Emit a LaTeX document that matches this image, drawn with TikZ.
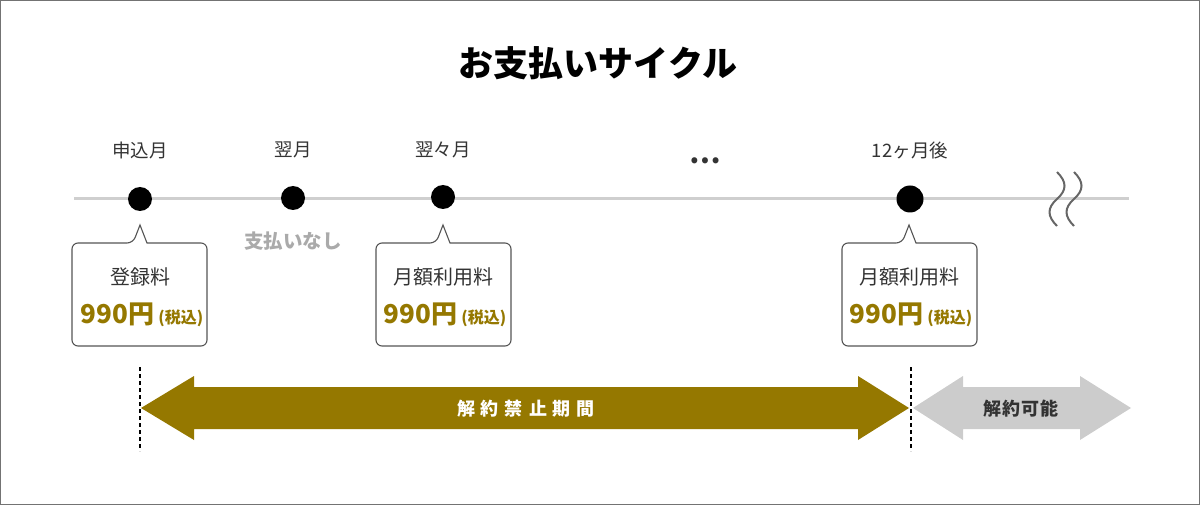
\documentclass[tikz,border=0pt]{standalone}
\usepackage{fontspec}
\setmainfont{Noto Sans CJK JP}
\definecolor{gold}{HTML}{957800}
\definecolor{txt}{HTML}{333333}
\definecolor{tl}{HTML}{CFCFCF}
\definecolor{lgrey}{HTML}{CCCCCC}
\definecolor{nopay}{HTML}{AAAAAA}
\definecolor{edge}{HTML}{555555}
\tikzset{
  monthlbl/.style={text=txt,font=\fontsize{18.5}{18.5}\selectfont,inner sep=0pt},
  dotnode/.style={circle,fill=black,inner sep=0pt,minimum size=24pt},
  bigdot/.style={circle,fill=black,inner sep=0pt,minimum size=27pt},
  boxline/.style={draw=edge,line width=1.1pt,fill=white},
  boxtitle/.style={text=txt,font=\fontsize{20}{20}\selectfont,inner sep=0pt},
  price/.style={text=gold,font=\bfseries,inner sep=0pt},
  wave/.style={draw=black!60,line width=2pt},
  divider/.style={draw=black,line width=1.6pt,dash pattern=on 4pt off 3pt},
  arrowtxt/.style={font=\bfseries\fontsize{18}{18}\selectfont,inner sep=0pt}
}
\newcommand{\pricetext}{\fontsize{26}{26}\selectfont 990円\fontsize{16}{16}\selectfont\kern4pt(税込)}
\begin{document}
\begin{tikzpicture}[x=1pt,y=-1pt]
\useasboundingbox (0,0) rectangle (1200,505);
\draw[draw=black!55,line width=1pt] (0.5,0.5) rectangle (1199.5,504.5);
% title
\node[font=\bfseries\fontsize{35}{35}\selectfont,inner sep=0pt] (title) at (598,63) {お支払いサイクル};
% timeline
\coordinate (tlL) at (74,199);
\coordinate (tlR) at (1129,199);
\draw[draw=tl,line width=3pt] (tlL) -- (tlR);
% wavy break
\draw[wave] (1057,172) .. controls (1067,182) and (1067,190) .. (1057,199) .. controls (1047,208) and (1047,216) .. (1057,226);
\draw[wave] (1074,172) .. controls (1084,182) and (1084,190) .. (1074,199) .. controls (1064,208) and (1064,216) .. (1074,226);
% month labels
\node[monthlbl] (m1) at (140,150) {申込月};
\node[monthlbl] (m2) at (293,150) {翌月};
\node[monthlbl] (m3) at (443,150) {翌々月};
\node[monthlbl,font=\bfseries\fontsize{28}{28}\selectfont] (m4) at (705,161) {…};
\node[monthlbl] (m5) at (910,150) {12ヶ月後};
% dots
\node[dotnode] (d1) at (140,199) {};
\node[dotnode] (d2) at (293,198) {};
\node[dotnode] (d3) at (443,197) {};
\node[bigdot] (d5) at (910,199) {};
% no payment
\node[text=nopay,font=\bfseries\fontsize{19.5}{19.5}\selectfont,inner sep=0pt] (np) at (293,241) {支払いなし};
% callouts
\draw[boxline] (72,294) [rounded corners=6pt] |- (133,243) [sharp corners] -- (140,225) -- (147,243) [rounded corners=6pt] -| (207,294) |- (72,346) -- cycle;
\draw[boxline] (376,294) [rounded corners=6pt] |- (436,243) [sharp corners] -- (443,225) -- (450,243) [rounded corners=6pt] -| (511,294) |- (376,346) -- cycle;
\draw[boxline] (842,294) [rounded corners=6pt] |- (902,243) [sharp corners] -- (909,225) -- (916,243) [rounded corners=6pt] -| (977,294) |- (842,346) -- cycle;
\node[boxtitle] (b1t) at (140,277) {登録料};
\node[price] (b1p) at (142,315) {\pricetext};
\node[boxtitle] (b2t) at (443,277) {月額利用料};
\node[price] (b2p) at (445,315) {\pricetext};
\node[boxtitle] (b3t) at (909,277) {月額利用料};
\node[price] (b3p) at (911,315) {\pricetext};
% period arrows
\fill[gold] (141,408) -- (194,376) -- (194,387) -- (858,387) -- (858,376) -- (909,408) -- (858,440) -- (858,429) -- (194,429) -- (194,440) -- cycle;
\fill[lgrey] (913,408) -- (963,376) -- (963,387) -- (1080,387) -- (1080,376) -- (1131,408) -- (1080,440) -- (1080,429) -- (963,429) -- (963,440) -- cycle;
\node[arrowtxt,text=white] (p1) at (526,409) {解\kern6pt 約\kern6pt 禁\kern6pt 止\kern6pt 期\kern6pt 間};
\node[arrowtxt,text=txt] (p2) at (1021,409) {解\kern1pt 約\kern1pt 可\kern1pt 能};
% dividers
\coordinate (v1t) at (140,367);
\coordinate (v1b) at (140,451);
\coordinate (v2t) at (911,367);
\coordinate (v2b) at (911,451);
\draw[divider] (v1t) -- (v1b);
\draw[divider] (v2t) -- (v2b);
\end{tikzpicture}
\end{document}
